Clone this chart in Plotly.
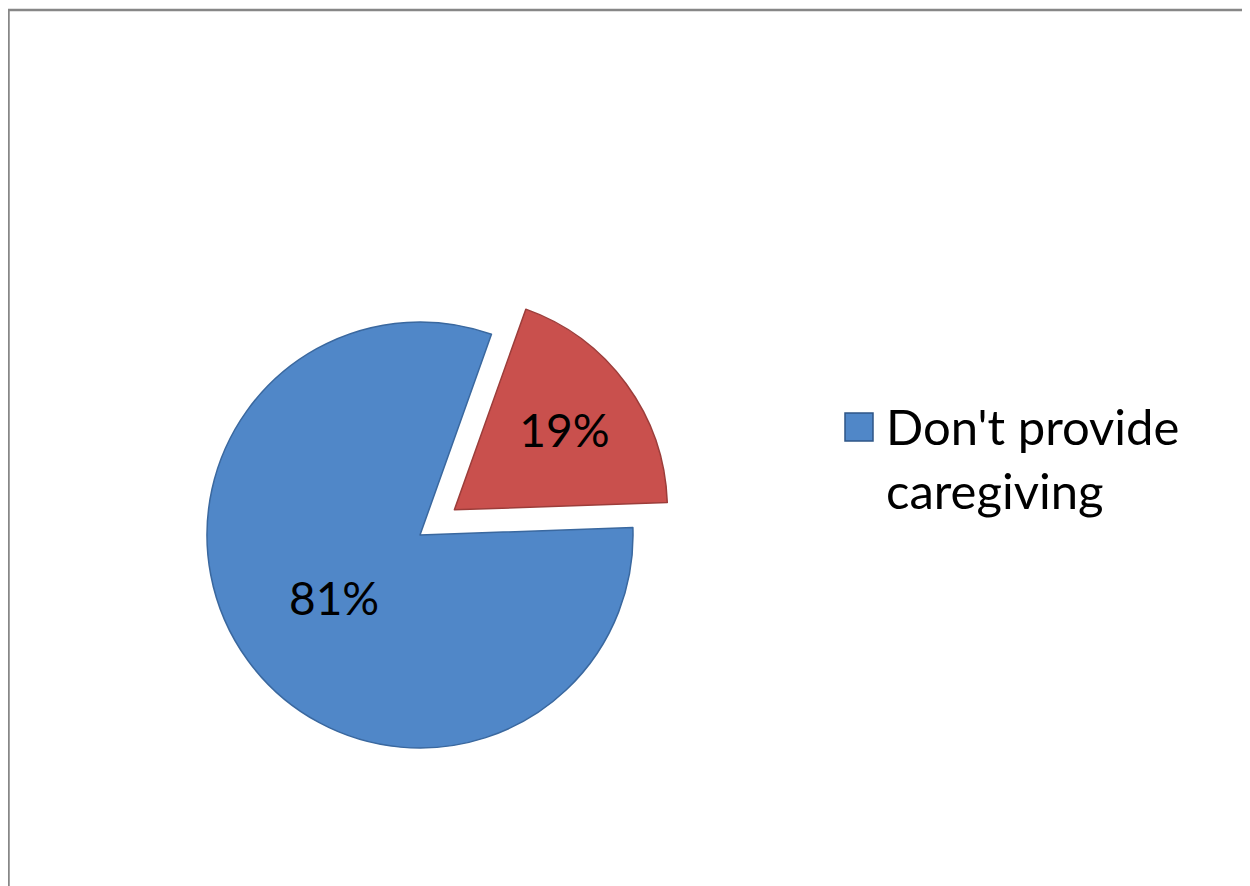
import plotly.graph_objects as go

# ---- data ----
labels = ["Don't provide caregiving", "Provide caregiving"]
values = [81, 19]
colors = ["#5087C8", "#C9504D"]
line_colors = ["#3A689F", "#9C3D3A"]
pulls = [0.0, 0.2]
legend_labels = ["Don't provide<br>caregiving"]

W, H = 1250, 886

fig = go.Figure()
fig.add_trace(go.Pie(
    labels=labels,
    values=values,
    sort=False,
    direction="clockwise",
    rotation=88,
    pull=pulls,
    marker=dict(colors=colors, line=dict(color=line_colors, width=1.5)),
    textinfo="percent",
    texttemplate="%{percent:.0%}",
    textposition="inside",
    insidetextorientation="horizontal",
    textfont=dict(family="Lato", size=46, color="black"),
    domain=dict(x=[0.0896, 0.5696], y=[0.1167, 0.6937]),
    showlegend=False,
    hoverinfo="label+percent",
))

# manual legend (only the first category is shown in the reference)
fig.add_shape(type="rect", xref="paper", yref="paper",
              x0=837 / W, x1=865 / W, y0=1 - 433 / H, y1=1 - 405 / H,
              fillcolor=colors[0], line=dict(color="#2E5686", width=1.5))
fig.add_annotation(xref="paper", yref="paper", x=876 / W, y=1 - 450 / H,
                   xanchor="left", yanchor="middle", align="left",
                   text=legend_labels[0], showarrow=False,
                   font=dict(family="Lato", size=49, color="black"))

# chart frame (partially outside the view on the right and bottom)
fig.add_shape(type="rect", xref="paper", yref="paper",
              x0=0.5 / W, x1=1.02, y0=-0.02, y1=1 - 2 / H,
              line=dict(color="#878787", width=2.5), fillcolor="rgba(0,0,0,0)")

fig.update_layout(
    width=W, height=H,
    margin=dict(l=0, r=0, t=0, b=0),
    paper_bgcolor="white",
    plot_bgcolor="white",
    font=dict(family="Lato"),
)

fig.write_html("out.html")
